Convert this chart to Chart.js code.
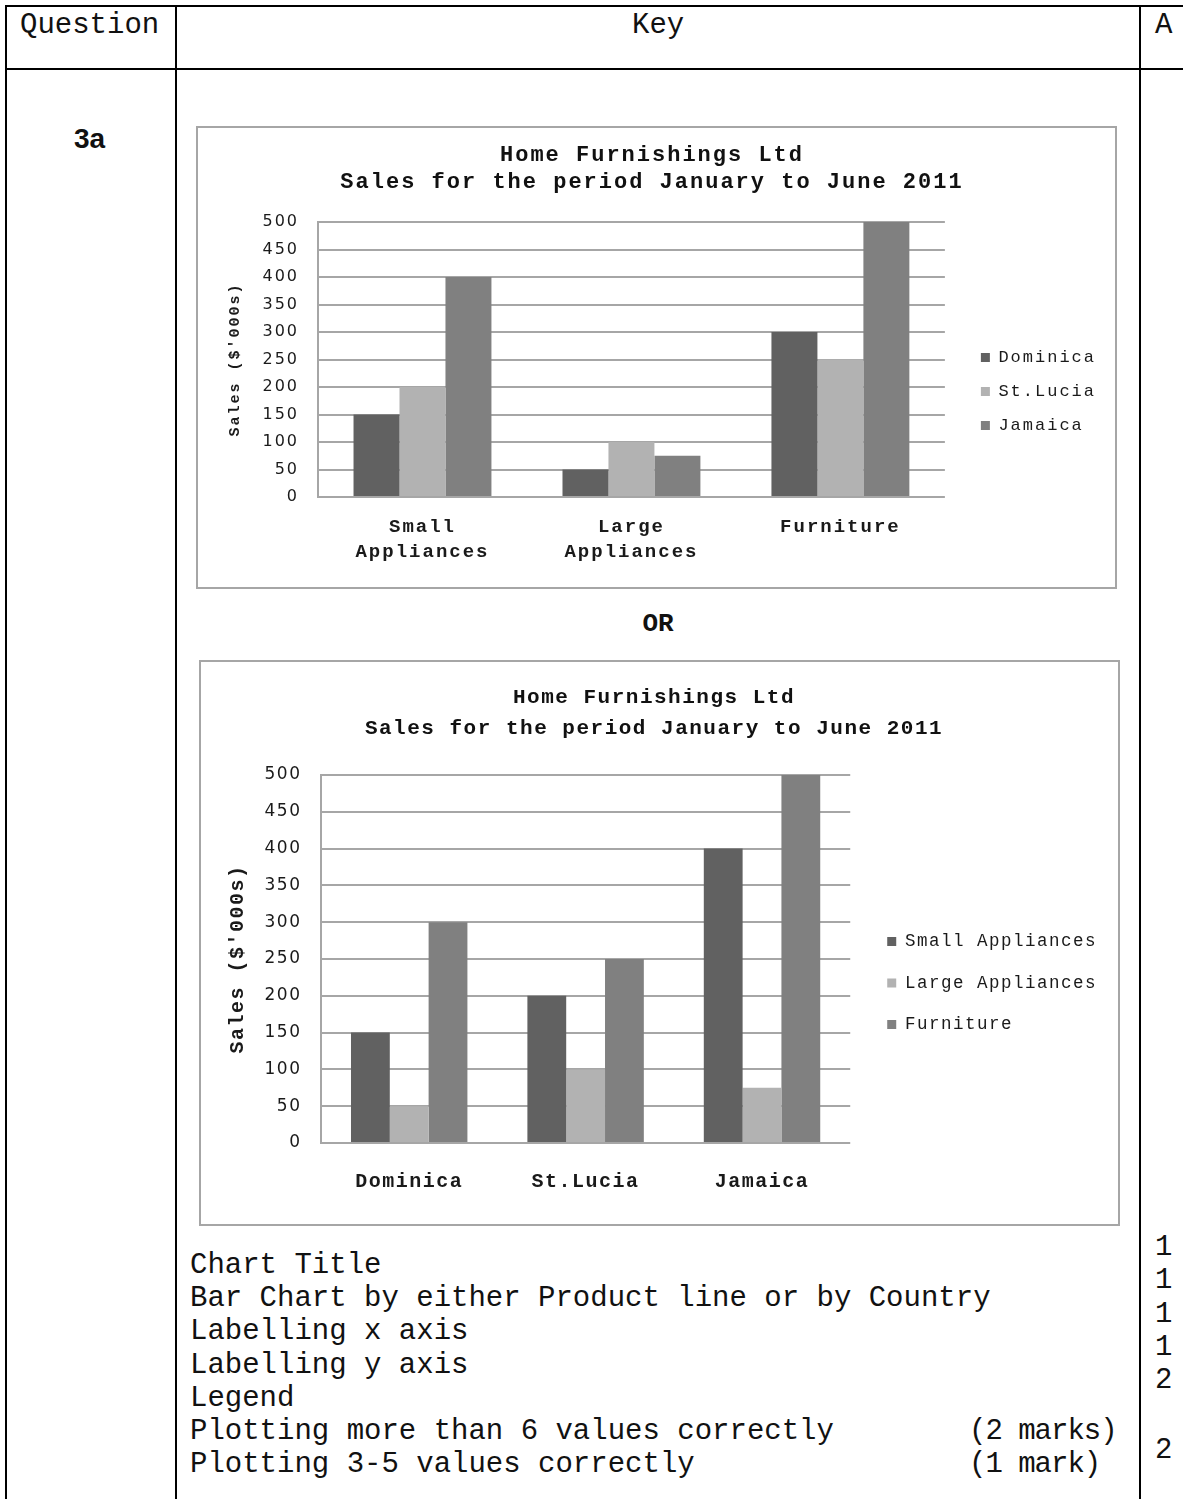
<!DOCTYPE html>
<html>
<head>
<meta charset="utf-8">
<title>Home Furnishings Ltd - 3a</title>
<script src="https://cdn.jsdelivr.net/npm/chart.js@4.4.1/dist/chart.umd.min.js"></script>
<style>
  html, body { margin: 0; padding: 0; background: #fff; }
  body { position: relative; width: 1183px; height: 1499px; overflow: hidden; font-family: 'Liberation Mono', monospace; color: #111; }
  .ln { position: absolute; background: #000; }
  .txt { position: absolute; white-space: pre; font-size: 29px; line-height: 33.2px; }
  .box { position: absolute; border: 2px solid #a6a6a6; box-sizing: border-box; background: #fff; }
  .box canvas { display: block; }
</style>
</head>
<body>

<!-- table lines -->
<div class="ln" style="left:5px;top:5px;width:1178px;height:2px"></div>
<div class="ln" style="left:5px;top:68px;width:1178px;height:2px"></div>
<div class="ln" style="left:5px;top:5px;width:2px;height:1494px"></div>
<div class="ln" style="left:175px;top:5px;width:2px;height:1494px"></div>
<div class="ln" style="left:1139px;top:5px;width:2px;height:1494px"></div>

<div class="txt" style="left:20px;top:9px">Question</div>
<div class="txt" style="left:632px;top:9px">Key</div>
<div class="txt" style="left:1155px;top:9px">A</div>
<div class="txt" style="left:74px;top:124px;font-family:'Liberation Sans';font-weight:bold;font-size:28px;line-height:30px">3a</div>

<div class="box" style="left:196px;top:126px;width:921px;height:463px">
  <canvas id="byProduct" width="917" height="459"></canvas>
</div>

<div class="txt" style="left:608px;top:608px;width:100px;text-align:center;font-weight:bold;font-size:26px">OR</div>

<div class="box" style="left:199px;top:660px;width:921px;height:566px">
  <canvas id="byCountry" width="917" height="562"></canvas>
</div>

<div class="txt" style="left:190px;top:1249px">Chart Title
Bar Chart by either Product line or by Country
Labelling x axis
Labelling y axis
Legend
Plotting more than 6 values correctly
Plotting 3-5 values correctly</div>
<div class="txt" style="left:969px;top:1415px;letter-spacing:-1px">(2 marks)</div>
<div class="txt" style="left:969px;top:1448px;letter-spacing:-1px">(1 mark)</div>

<div class="txt" style="left:1155px;top:1231px">1</div>
<div class="txt" style="left:1155px;top:1264px">1</div>
<div class="txt" style="left:1155px;top:1298px">1</div>
<div class="txt" style="left:1155px;top:1331px">1</div>
<div class="txt" style="left:1155px;top:1364px">2</div>
<div class="txt" style="left:1155px;top:1434px">2</div>

<script>
const PRODUCTS = [['Small', 'Appliances'], ['Large', 'Appliances'], 'Furniture'];
const PRODUCT_NAMES = ['Small Appliances', 'Large Appliances', 'Furniture'];
const COUNTRIES = ['Dominica', 'St.Lucia', 'Jamaica'];
const CHART_TITLE = ['Home Furnishings Ltd', 'Sales for the period January to June 2011'];
const Y_TITLE = "Sales ($'000s)";

// sales in $'000s, in product order (small, large, furniture)
const DOMINICA = [150, 50, 300];
const ST_LUCIA = [200, 100, 250];
const JAMAICA = [400, 75, 500];

const Y_MAX = 500;
const Y_STEP = 50;

const SHADES = ['#616161', '#b2b2b2', '#808080'];
const GRID = '#a6a6a6';

Chart.defaults.font.family = "'Liberation Mono', monospace";
Chart.defaults.color = '#1a1a1a';

// the scanned charts use wide-set Courier text, so space the letters out a bit
const spacingPlugin = {
    id: 'spacing',
    beforeLayout(chart, args, opts) { chart.ctx.letterSpacing = opts.px + 'px'; },
    beforeDraw(chart, args, opts) { chart.ctx.letterSpacing = opts.px + 'px'; }
};

function buildChart(id, labels, names, values, L) {
    return new Chart(document.getElementById(id), {
        type: 'bar',
        data: {
            labels: labels,
            datasets: names.map((name, i) => ({
                label: name,
                data: values[i],
                backgroundColor: SHADES[i],
                borderWidth: 0,
                barPercentage: 1,
                categoryPercentage: 0.66,
                yAxisID: 'y'
            }))
        },
        options: {
            responsive: false,
            animation: false,
            layout: { padding: { top: 0, left: 0, right: L.padRight, bottom: 0 } },
            scales: {
                x: {
                    grid: { display: false },
                    border: { display: false },
                    ticks: {
                        padding: L.xPad, autoSkip: false, maxRotation: 0,
                        font: { size: L.xFont, weight: L.xWeight, lineHeight: L.xLine + 'px' }
                    },
                    afterFit: s => { s.height = L.xHeight; }
                },
                y: {
                    min: 0,
                    max: Y_MAX,
                    grid: { color: GRID, lineWidth: 2, drawTicks: false },
                    border: { color: GRID, width: 2 },
                    ticks: { stepSize: Y_STEP, padding: L.yPad, font: { family: "'DejaVu Sans', sans-serif", size: L.yFont } },
                    title: {
                        display: true, text: Y_TITLE,
                        font: { size: L.yTitleFont, weight: 'bold' },
                        padding: { top: L.yTitleTop, bottom: 0 }
                    },
                    afterFit: s => { s.width = L.yWidth; }
                },
                // empty axis, only keeps the legend away from the plot
                gap: {
                    type: 'linear', position: 'right', display: true,
                    grid: { display: false }, border: { display: false }, ticks: { display: false },
                    afterFit: s => { s.width = L.gap; }
                }
            },
            plugins: {
                spacing: { px: L.spacing },
                title: {
                    display: true,
                    text: CHART_TITLE,
                    color: '#111',
                    font: { size: L.titleFont, weight: 'bold', lineHeight: L.titleLine + 'px' },
                    padding: { top: L.titleTop, bottom: L.titleBottom }
                },
                legend: {
                    position: 'right',
                    fullSize: false,
                    align: 'center',
                    maxWidth: 320,
                    title: { display: true, text: '', font: { size: 1, lineHeight: '0px' }, padding: { top: L.legendShift, bottom: 0 } },
                    labels: { boxWidth: 9, boxHeight: 9, padding: L.legendPad, font: { size: L.legendFont } }
                },
                tooltip: { enabled: false }
            }
        },
        plugins: [spacingPlugin]
    });
}

// 1. by product line, one bar per country
buildChart('byProduct', PRODUCTS, COUNTRIES, [DOMINICA, ST_LUCIA, JAMAICA], {
    spacing: 2,
    titleFont: 22, titleLine: 27, titleTop: 14, titleBottom: 26,
    yFont: 16, yPad: 19, yTitleFont: 15, yTitleTop: 28, yWidth: 120,
    xFont: 19, xWeight: 'bold', xLine: 25, xPad: 10, xHeight: 90,
    gap: 19, legendPad: 17, legendFont: 17, legendShift: 64, padRight: 9
});

// 2. by country, one bar per product line
const byProductLine = PRODUCT_NAMES.map((_, p) => [DOMINICA[p], ST_LUCIA[p], JAMAICA[p]]);
buildChart('byCountry', COUNTRIES, PRODUCT_NAMES, byProductLine, {
    spacing: 1.5,
    titleFont: 21, titleLine: 31, titleTop: 20, titleBottom: 31,
    yFont: 17, yPad: 19.5, yTitleFont: 20, yTitleTop: 25, yWidth: 120,
    xFont: 20, xWeight: 'bold', xLine: 24, xPad: 19, xHeight: 81,
    gap: 13, legendPad: 24, legendFont: 17.5, legendShift: 48, padRight: 11
});
</script>
</body>
</html>
